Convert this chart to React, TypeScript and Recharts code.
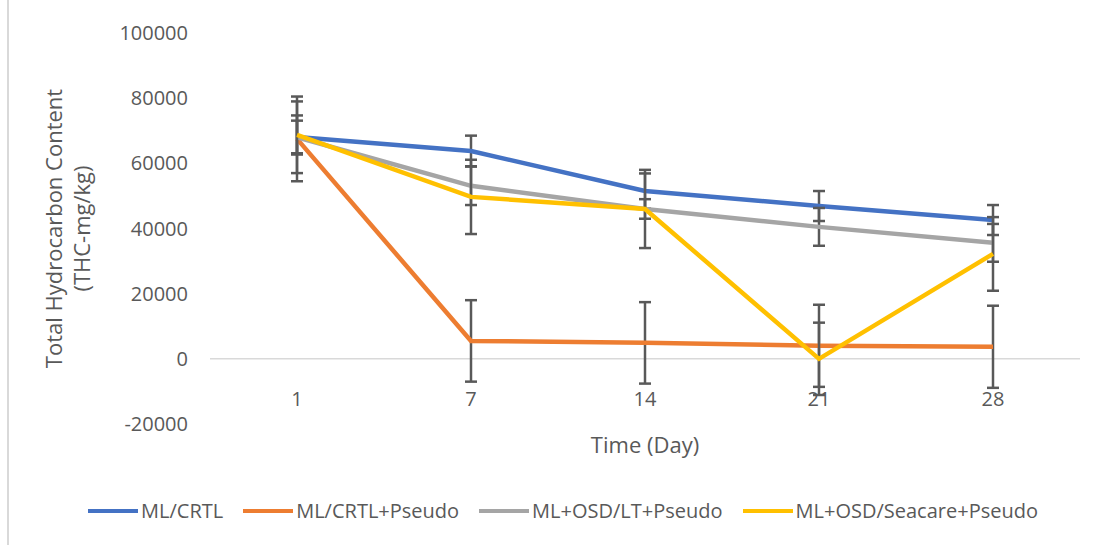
import {
  ErrorBar,
  Legend,
  Line,
  LineChart,
  ReferenceLine,
  XAxis,
  YAxis,
} from "recharts";

const days = ["1", "7", "14", "21", "28"];

const crtl = [68100, 63800, 51500, 46900, 42600];
const crtlErr = [5000, 4700, 5400, 4600, 4600];
const crtlPseudo = [67500, 5500, 4900, 4000, 3700];
const crtlPseudoErr = [13000, 12500, 12500, 12600, 12600];
const ltPseudo = [68000, 53100, 46000, 40500, 35600];
const ltPseudoErr = [11000, 5900, 12000, 5800, 5800];
const seacarePseudo = [68700, 49700, 46000, 0, 32200];
const seacarePseudoErr = [6000, 11400, 3000, 11100, 11300];

const yTicks = [-20000, 0, 20000, 40000, 60000, 80000, 100000];

const series = [
  { key: "crtl", err: "crtlErr", name: "ML/CRTL", color: "#4472C4" },
  { key: "crtlPseudo", err: "crtlPseudoErr", name: "ML/CRTL+Pseudo", color: "#ED7D31" },
  { key: "ltPseudo", err: "ltPseudoErr", name: "ML+OSD/LT+Pseudo", color: "#A5A5A5" },
  { key: "seacarePseudo", err: "seacarePseudoErr", name: "ML+OSD/Seacare+Pseudo", color: "#FFC000" },
];

const data = days.map((day, i) => ({
  day,
  crtl: crtl[i],
  crtlErr: crtlErr[i],
  crtlPseudo: crtlPseudo[i],
  crtlPseudoErr: crtlPseudoErr[i],
  ltPseudo: ltPseudo[i],
  ltPseudoErr: ltPseudoErr[i],
  seacarePseudo: seacarePseudo[i],
  seacarePseudoErr: seacarePseudoErr[i],
}));

const FONT = "'Open Sans', sans-serif";
const TEXT = "#595959";

// x tick labels sit just under the zero line, not at the plot bottom
function DayTick({ x, y, payload }: any) {
  return (
    <text x={x} y={y - 20} textAnchor="middle" fill={TEXT} fontSize={20} fontFamily={FONT}>
      {payload.value}
    </text>
  );
}

function LegendBox() {
  return (
    <div
      style={{
        display: "flex",
        justifyContent: "center",
        alignItems: "center",
        gap: 20,
        fontFamily: FONT,
        fontSize: 20,
        color: TEXT,
      }}
    >
      {series.map((s) => (
        <div key={s.key} style={{ display: "flex", alignItems: "center" }}>
          <span style={{ display: "inline-block", width: 50, height: 4, background: s.color, marginRight: 3 }} />
          <span>{s.name}</span>
        </div>
      ))}
    </div>
  );
}

export default function App() {
  return (
    <div
      style={{
        position: "absolute",
        left: 0,
        top: 0,
        width: 1099,
        height: 545,
        background: "#fff",
      }}
    >
      <div style={{ position: "absolute", left: 7, top: 0, width: 2, height: 545, background: "#d9d9d9" }} />
      <LineChart
        width={1099}
        height={545}
        data={data}
        margin={{ top: 33, right: 19, bottom: 91, left: 110 }}
      >
        <XAxis
          dataKey="day"
          scale="band"
          axisLine={false}
          tickLine={false}
          tickSize={0}
          height={30}
          tick={<DayTick />}
          label={{
            content: ({ viewBox }: any) => (
              <text
                x={viewBox.x + viewBox.width / 2}
                y={viewBox.y + 29}
                textAnchor="middle"
                fill={TEXT}
                fontSize={22}
                fontFamily={FONT}
              >
                Time (Day)
              </text>
            ),
          }}
        />
        <YAxis
          domain={[-20000, 100000]}
          ticks={yTicks}
          axisLine={false}
          tickLine={false}
          tickSize={0}
          tickMargin={22}
          width={100}
          tick={{ fill: TEXT, fontSize: 20, fontFamily: FONT }}
          label={{
            content: ({ viewBox }: any) => {
              const cy = viewBox.y + viewBox.height / 2;
              return (
                <g fill={TEXT} fontSize={22} fontFamily={FONT}>
                  <text x={62} y={cy} textAnchor="middle" transform={`rotate(-90 62 ${cy})`}>
                    Total Hydrocarbon Content
                  </text>
                  <text x={90} y={cy} textAnchor="middle" transform={`rotate(-90 90 ${cy})`}>
                    (THC-mg/kg)
                  </text>
                </g>
              );
            },
          }}
        />
        <ReferenceLine y={0} stroke="#d9d9d9" strokeWidth={1.5} />
        {series.map((s) => (
          <Line
            key={s.key}
            type="linear"
            dataKey={s.key}
            name={s.name}
            stroke={s.color}
            strokeWidth={4.5}
            dot={false}
            activeDot={false}
            isAnimationActive={false}
          >
            <ErrorBar dataKey={s.err} width={6} stroke="#595959" strokeWidth={2.5} direction="y" />
          </Line>
        ))}
        <Legend
          layout="horizontal"
          verticalAlign="middle"
          align="center"
          content={<LegendBox />}
          wrapperStyle={{ top: 497, left: 0, width: 1099, paddingLeft: 27, boxSizing: "border-box" }}
        />
      </LineChart>
    </div>
  );
}
